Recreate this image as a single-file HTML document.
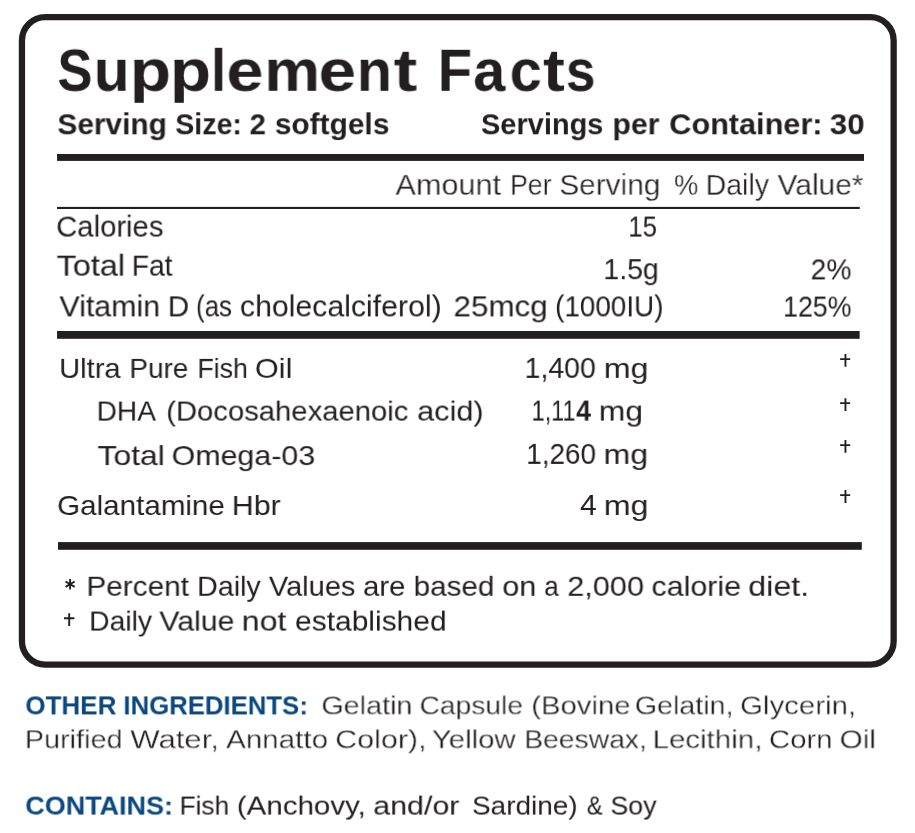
<!DOCTYPE html>
<html><head><meta charset="utf-8"><title>Supplement Facts</title>
<style>
html,body{margin:0;padding:0;background:#fff;}
body{width:915px;height:833px;position:relative;overflow:hidden;font-family:"Liberation Sans",sans-serif;color:#231f20;}
.l{height:0;}
.t{position:absolute;display:block;white-space:nowrap;transform-origin:0 0;will-change:transform;}
svg{position:absolute;overflow:visible;}
</style></head><body>
<svg width="915" height="833" viewBox="0 0 915 833" style="left:0;top:0">
<rect x="21.95" y="17.15" width="871.7" height="647.4" rx="23.3" ry="23.3" fill="none" stroke="#231f20" stroke-width="6.3"/>
<rect x="57.05" y="154" width="806.95" height="6.9" fill="#231f20"/>
<rect x="57.05" y="206.9" width="802.7" height="2.1" fill="#231f20"/>
<rect x="57.05" y="331" width="802.6" height="7.8" fill="#231f20"/>
<rect x="58" y="542.1" width="803.8" height="7.7" fill="#231f20"/>
</svg>
<div class="l"><span class="t" style="left:57px;top:40px;font-size:60px;line-height:60px;font-weight:bold;transform:translate(0.50px,0.80px) scaleX(0.8720) rotate(0.01deg)">S</span><span class="t" style="left:93px;top:40px;font-size:60px;line-height:60px;font-weight:bold;transform:translate(0.89px,0.80px) scaleX(0.9708) rotate(0.01deg)">u</span><span class="t" style="left:129px;top:40px;font-size:60px;line-height:60px;font-weight:bold;transform:translate(0.80px,0.80px) scaleX(1.1248) rotate(0.01deg)">p</span><span class="t" style="left:169px;top:40px;font-size:60px;line-height:60px;font-weight:bold;transform:translate(0.91px,0.80px) scaleX(1.1225) rotate(0.01deg)">p</span><span class="t" style="left:211px;top:40px;font-size:60px;line-height:60px;font-weight:bold;transform:translate(0.10px,0.80px) scaleX(0.8954) rotate(0.01deg)">l</span><span class="t" style="left:226px;top:40px;font-size:60px;line-height:60px;font-weight:bold;transform:translate(0.48px,0.80px) scaleX(1.1097) rotate(0.01deg)">e</span><span class="t" style="left:264px;top:40px;font-size:60px;line-height:60px;font-weight:bold;transform:translate(0.45px,0.80px) scaleX(1.0409) rotate(0.01deg)">m</span><span class="t" style="left:318px;top:40px;font-size:60px;line-height:60px;font-weight:bold;transform:translate(0.62px,0.80px) scaleX(1.1217) rotate(0.01deg)">e</span><span class="t" style="left:356px;top:40px;font-size:60px;line-height:60px;font-weight:bold;transform:translate(0.89px,0.80px) scaleX(0.9554) rotate(0.01deg)">n</span><span class="t" style="left:393px;top:40px;font-size:60px;line-height:60px;font-weight:bold;transform:translate(0.64px,0.80px) scaleX(1.1850) rotate(0.01deg)">t</span> <span class="t" style="left:437px;top:40px;font-size:60px;line-height:60px;font-weight:bold;transform:translate(0.81px,0.80px) scaleX(0.9343) rotate(0.01deg)">F</span><span class="t" style="left:473px;top:40px;font-size:60px;line-height:60px;font-weight:bold;transform:translate(0.29px,0.80px) scaleX(0.9573) rotate(0.01deg)">a</span><span class="t" style="left:509px;top:40px;font-size:60px;line-height:60px;font-weight:bold;transform:translate(0.72px,0.80px) scaleX(0.9590) rotate(0.01deg)">c</span><span class="t" style="left:543px;top:40px;font-size:60px;line-height:60px;font-weight:bold;transform:translate(0.04px,0.80px) scaleX(1.0907) rotate(0.01deg)">t</span><span class="t" style="left:565px;top:40px;font-size:60px;line-height:60px;font-weight:bold;transform:translate(0.91px,0.80px) scaleX(0.8867) rotate(0.01deg)">s</span></div>
<div class="l"><span class="t" style="left:57px;top:110px;font-size:29px;line-height:29px;font-weight:bold;transform:translate(0.43px,0.30px) scaleX(1.0292) rotate(0.01deg)">Serving</span> <span class="t" style="left:175px;top:110px;font-size:29px;line-height:29px;font-weight:bold;transform:translate(0.30px,0.30px) scaleX(0.9840) rotate(0.01deg)">Size:</span> <span class="t" style="left:249px;top:110px;font-size:29px;line-height:29px;font-weight:bold;transform:translate(0.62px,0.30px) scaleX(1.0114) rotate(0.01deg)">2</span> <span class="t" style="left:274px;top:110px;font-size:29px;line-height:29px;font-weight:bold;transform:translate(0.86px,0.30px) scaleX(1.0297) rotate(0.01deg)">softgels</span></div>
<div class="l"><span class="t" style="left:480px;top:110px;font-size:29px;line-height:29px;font-weight:bold;transform:translate(1.00px,0.30px) scaleX(0.9990) rotate(0.01deg)">Servings</span> <span class="t" style="left:612px;top:110px;font-size:29px;line-height:29px;font-weight:bold;transform:translate(0.47px,0.30px) scaleX(1.0408) rotate(0.01deg)">per</span> <span class="t" style="left:669px;top:110px;font-size:29px;line-height:29px;font-weight:bold;transform:translate(0.28px,0.30px) scaleX(1.0574) rotate(0.01deg)">Container:</span> <span class="t" style="left:829px;top:110px;font-size:29px;line-height:29px;font-weight:bold;transform:translate(0.80px,0.30px) scaleX(1.0776) rotate(0.01deg)">30</span></div>
<div class="l"><span class="t" style="-webkit-text-stroke:0.3px #fff;left:395px;top:170px;font-size:29px;line-height:29px;transform:translate(0.55px,0.90px) scaleX(1.0556) rotate(0.01deg)">Amount</span> <span class="t" style="-webkit-text-stroke:0.3px #fff;left:510px;top:170px;font-size:29px;line-height:29px;transform:translate(0.04px,0.90px) scaleX(0.9210) rotate(0.01deg)">Per</span> <span class="t" style="-webkit-text-stroke:0.3px #fff;left:559px;top:170px;font-size:29px;line-height:29px;transform:translate(0.37px,0.90px) scaleX(1.0273) rotate(0.01deg)">Serving</span></div>
<div class="l"><span class="t" style="-webkit-text-stroke:0.3px #fff;left:673px;top:170px;font-size:29px;line-height:29px;transform:translate(0.99px,0.90px) scaleX(0.9441) rotate(0.01deg)">%</span> <span class="t" style="-webkit-text-stroke:0.3px #fff;left:705px;top:170px;font-size:29px;line-height:29px;transform:translate(0.62px,0.90px) scaleX(0.9839) rotate(0.01deg)">Daily</span> <span class="t" style="-webkit-text-stroke:0.3px #fff;left:777px;top:170px;font-size:29px;line-height:29px;transform:translate(0.57px,0.90px) scaleX(1.0311) rotate(0.01deg)">Value*</span></div>
<div class="l"><span class="t" style="left:56px;top:212px;font-size:29px;line-height:29px;transform:translate(0.25px,0.60px) scaleX(1.0083) rotate(0.01deg)">Calories</span></div>
<div class="l"><span class="t" style="left:628px;top:212px;font-size:29px;line-height:29px;transform:translate(0.35px,0.60px) scaleX(0.8841) rotate(0.01deg)">15</span></div>
<div class="l"><span class="t" style="left:56px;top:251px;font-size:29px;line-height:29px;transform:translate(0.61px,0.70px) scaleX(1.1187) rotate(0.01deg)">Total</span> <span class="t" style="left:131px;top:251px;font-size:29px;line-height:29px;transform:translate(0.79px,0.70px) scaleX(0.9731) rotate(0.01deg)">Fat</span></div>
<div class="l"><span class="t" style="left:603px;top:255px;font-size:29px;line-height:29px;transform:translate(0.40px,0.20px) scaleX(0.9813) rotate(0.01deg)">1.5g</span></div>
<div class="l"><span class="t" style="left:810px;top:255px;font-size:29px;line-height:29px;transform:translate(0.67px,0.40px) scaleX(0.9707) rotate(0.01deg)">2%</span></div>
<div class="l"><span class="t" style="left:59px;top:292px;font-size:29px;line-height:29px;transform:translate(0.51px,0.40px) scaleX(1.0451) rotate(0.01deg)">Vitamin</span> <span class="t" style="left:167px;top:292px;font-size:29px;line-height:29px;transform:translate(0.79px,0.40px) scaleX(1.0218) rotate(0.01deg)">D</span> <span class="t" style="left:196px;top:292px;font-size:29px;line-height:29px;transform:translate(0.04px,0.40px) scaleX(0.8925) rotate(0.01deg)">(as</span> <span class="t" style="left:239px;top:292px;font-size:29px;line-height:29px;transform:translate(0.91px,0.40px) scaleX(1.0432) rotate(0.01deg)">cholecalciferol)</span></div>
<div class="l"><span class="t" style="left:453px;top:292px;font-size:29px;line-height:29px;transform:translate(0.51px,0.40px) scaleX(1.0830) rotate(0.01deg)">25mcg</span> <span class="t" style="left:555px;top:292px;font-size:29px;line-height:29px;transform:translate(0.09px,0.40px) scaleX(0.9602) rotate(0.01deg)">(1000IU)</span></div>
<div class="l"><span class="t" style="left:783px;top:292px;font-size:29px;line-height:29px;transform:translate(0.08px,0.60px) scaleX(0.9214) rotate(0.01deg)">125%</span></div>
<div class="l"><span class="t" style="left:59px;top:354px;font-size:28px;line-height:28px;transform:translate(0.15px,0.90px) scaleX(1.0417) rotate(0.01deg)">Ultra</span> <span class="t" style="left:129px;top:354px;font-size:28px;line-height:28px;transform:translate(0.42px,0.90px) scaleX(0.9974) rotate(0.01deg)">Pure</span> <span class="t" style="left:197px;top:354px;font-size:28px;line-height:28px;transform:translate(0.45px,0.90px) scaleX(0.9551) rotate(0.01deg)">Fish</span> <span class="t" style="left:254px;top:354px;font-size:28px;line-height:28px;transform:translate(0.90px,0.90px) scaleX(1.0938) rotate(0.01deg)">Oil</span></div>
<div class="l"><span class="t" style="left:524px;top:353px;font-size:29px;line-height:29px;transform:translate(0.60px,0.90px) scaleX(0.9813) rotate(0.01deg)">1,400</span> <span class="t" style="left:603px;top:354px;font-size:28px;line-height:28px;transform:translate(0.81px,0.90px) scaleX(1.1477) rotate(0.01deg)">mg</span></div>
<div class="l"><span class="t" style="left:96px;top:396px;font-size:28.5px;line-height:28.5px;transform:translate(0.69px,0.60px) scaleX(0.9847) rotate(0.01deg)">DHA</span> <span class="t" style="left:166px;top:396px;font-size:28.5px;line-height:28.5px;transform:translate(0.28px,0.60px) scaleX(1.0258) rotate(0.01deg)">(Docosahexaenoic</span> <span class="t" style="left:417px;top:396px;font-size:28.5px;line-height:28.5px;transform:translate(0.17px,0.60px) scaleX(1.0762) rotate(0.01deg)">acid)</span></div>
<div class="l"><span class="t" style="left:531px;top:396px;font-size:29px;line-height:29px;transform:translate(0.63px,0.60px) scaleX(0.8072) rotate(0.01deg)">1,11</span><span class="t" style="left:576px;top:396px;font-size:29px;line-height:29px;font-weight:bold;transform:translate(0.19px,0.60px) scaleX(0.9156) rotate(0.01deg)">4</span> <span class="t" style="left:598px;top:397px;font-size:28px;line-height:28px;transform:translate(0.82px,0.60px) scaleX(1.1346) rotate(0.01deg)">mg</span></div>
<div class="l"><span class="t" style="left:97px;top:441px;font-size:28.5px;line-height:28.5px;transform:translate(0.49px,0.10px) scaleX(1.1197) rotate(0.01deg)">Total</span> <span class="t" style="left:171px;top:441px;font-size:28.5px;line-height:28.5px;transform:translate(0.61px,0.10px) scaleX(1.0664) rotate(0.01deg)">Omega-03</span></div>
<div class="l"><span class="t" style="left:526px;top:439px;font-size:29px;line-height:29px;transform:translate(0.28px,0.90px) scaleX(0.9602) rotate(0.01deg)">1,260</span> <span class="t" style="left:603px;top:440px;font-size:28px;line-height:28px;transform:translate(0.59px,0.90px) scaleX(1.1421) rotate(0.01deg)">mg</span></div>
<div class="l"><span class="t" style="left:57px;top:492px;font-size:28px;line-height:28px;transform:translate(0.16px,0.00px) scaleX(1.0567) rotate(0.01deg)">Galantamine</span> <span class="t" style="left:231px;top:492px;font-size:28px;line-height:28px;transform:translate(0.81px,0.00px) scaleX(1.0836) rotate(0.01deg)">Hbr</span></div>
<div class="l"><span class="t" style="left:580px;top:491px;font-size:29px;line-height:29px;transform:translate(0.03px,0.00px) scaleX(1.0356) rotate(0.01deg)">4</span> <span class="t" style="left:603px;top:492px;font-size:28px;line-height:28px;transform:translate(0.81px,0.00px) scaleX(1.1476) rotate(0.01deg)">mg</span></div>
<div class="l"><span class="t" style="left:86px;top:572px;font-size:27.5px;line-height:27.5px;transform:translate(0.46px,0.80px) scaleX(1.0813) rotate(0.01deg)">Percent</span> <span class="t" style="left:197px;top:572px;font-size:27.5px;line-height:27.5px;transform:translate(0.13px,0.80px) scaleX(1.0419) rotate(0.01deg)">Daily</span> <span class="t" style="left:268px;top:572px;font-size:27.5px;line-height:27.5px;transform:translate(0.89px,0.80px) scaleX(1.0551) rotate(0.01deg)">Values</span> <span class="t" style="left:363px;top:572px;font-size:27.5px;line-height:27.5px;transform:translate(0.06px,0.80px) scaleX(1.0681) rotate(0.01deg)">are</span> <span class="t" style="left:413px;top:572px;font-size:27.5px;line-height:27.5px;transform:translate(0.64px,0.80px) scaleX(1.0780) rotate(0.01deg)">based</span> <span class="t" style="left:502px;top:572px;font-size:27.5px;line-height:27.5px;transform:translate(0.29px,0.80px) scaleX(1.1167) rotate(0.01deg)">on</span> <span class="t" style="left:544px;top:572px;font-size:27.5px;line-height:27.5px;transform:translate(0.22px,0.80px) scaleX(0.9483) rotate(0.01deg)">a</span> <span class="t" style="left:567px;top:572px;font-size:27.5px;line-height:27.5px;transform:translate(0.33px,0.80px) scaleX(1.1145) rotate(0.01deg)">2,000</span> <span class="t" style="left:651px;top:572px;font-size:27.5px;line-height:27.5px;transform:translate(0.44px,0.80px) scaleX(1.1071) rotate(0.01deg)">calorie</span> <span class="t" style="left:748px;top:572px;font-size:27.5px;line-height:27.5px;transform:translate(0.22px,0.80px) scaleX(1.1746) rotate(0.01deg)">diet.</span></div>
<div class="l"><span class="t" style="left:89px;top:607px;font-size:27.5px;line-height:27.5px;transform:translate(0.17px,0.60px) scaleX(1.0289) rotate(0.01deg)">Daily</span> <span class="t" style="left:159px;top:607px;font-size:27.5px;line-height:27.5px;transform:translate(0.37px,0.60px) scaleX(1.0978) rotate(0.01deg)">Value</span> <span class="t" style="left:241px;top:607px;font-size:27.5px;line-height:27.5px;transform:translate(0.67px,0.60px) scaleX(1.1710) rotate(0.01deg)">not</span> <span class="t" style="left:295px;top:607px;font-size:27.5px;line-height:27.5px;transform:translate(0.02px,0.60px) scaleX(1.0899) rotate(0.01deg)">established</span></div>
<div class="l"><span class="t" style="left:25px;top:692px;font-size:26.7px;line-height:26.7px;font-weight:bold;color:#0b4880;transform:translate(0.37px,0.40px) scaleX(0.9745) rotate(0.01deg)">OTHER</span> <span class="t" style="left:123px;top:692px;font-size:26.7px;line-height:26.7px;font-weight:bold;color:#0b4880;transform:translate(0.40px,0.40px) scaleX(0.9644) rotate(0.01deg)">INGREDIENTS:</span> <span class="t" style="-webkit-text-stroke:0.3px #fff;left:321px;top:693px;font-size:25.5px;line-height:25.5px;transform:translate(0.40px,0.40px) scaleX(1.1277) rotate(0.01deg)">Gelatin</span> <span class="t" style="-webkit-text-stroke:0.3px #fff;left:419px;top:693px;font-size:25.5px;line-height:25.5px;transform:translate(0.58px,0.40px) scaleX(1.1052) rotate(0.01deg)">Capsule</span> <span class="t" style="-webkit-text-stroke:0.3px #fff;left:531px;top:693px;font-size:25.5px;line-height:25.5px;transform:translate(0.30px,0.40px) scaleX(1.1480) rotate(0.01deg)">(Bovine</span> <span class="t" style="-webkit-text-stroke:0.3px #fff;left:634px;top:693px;font-size:25.5px;line-height:25.5px;transform:translate(0.79px,0.40px) scaleX(1.1224) rotate(0.01deg)">Gelatin,</span> <span class="t" style="-webkit-text-stroke:0.3px #fff;left:740px;top:693px;font-size:25.5px;line-height:25.5px;transform:translate(0.13px,0.40px) scaleX(1.1529) rotate(0.01deg)">Glycerin,</span> <span class="t" style="-webkit-text-stroke:0.3px #fff;left:24px;top:727px;font-size:25.5px;line-height:25.5px;transform:translate(0.80px,0.30px) scaleX(1.1301) rotate(0.01deg)">Purified</span> <span class="t" style="-webkit-text-stroke:0.3px #fff;left:130px;top:727px;font-size:25.5px;line-height:25.5px;transform:translate(0.31px,0.30px) scaleX(1.2199) rotate(0.01deg)">Water,</span> <span class="t" style="-webkit-text-stroke:0.3px #fff;left:226px;top:727px;font-size:25.5px;line-height:25.5px;transform:translate(0.03px,0.30px) scaleX(1.1607) rotate(0.01deg)">Annatto</span> <span class="t" style="-webkit-text-stroke:0.3px #fff;left:335px;top:727px;font-size:25.5px;line-height:25.5px;transform:translate(0.20px,0.30px) scaleX(1.1947) rotate(0.01deg)">Color),</span> <span class="t" style="-webkit-text-stroke:0.3px #fff;left:431px;top:727px;font-size:25.5px;line-height:25.5px;transform:translate(0.82px,0.30px) scaleX(1.1524) rotate(0.01deg)">Yellow</span> <span class="t" style="-webkit-text-stroke:0.3px #fff;left:524px;top:727px;font-size:25.5px;line-height:25.5px;transform:translate(0.30px,0.30px) scaleX(1.1090) rotate(0.01deg)">Beeswax,</span> <span class="t" style="-webkit-text-stroke:0.3px #fff;left:652px;top:727px;font-size:25.5px;line-height:25.5px;transform:translate(0.54px,0.30px) scaleX(1.1565) rotate(0.01deg)">Lecithin,</span> <span class="t" style="-webkit-text-stroke:0.3px #fff;left:768px;top:727px;font-size:25.5px;line-height:25.5px;transform:translate(0.96px,0.30px) scaleX(1.1503) rotate(0.01deg)">Corn</span> <span class="t" style="-webkit-text-stroke:0.3px #fff;left:839px;top:727px;font-size:25.5px;line-height:25.5px;transform:translate(0.58px,0.30px) scaleX(1.1684) rotate(0.01deg)">Oil</span></div>
<div class="l"><span class="t" style="left:25px;top:792px;font-size:26.7px;line-height:26.7px;font-weight:bold;color:#0b4880;transform:translate(0.33px,0.60px) scaleX(1.0097) rotate(0.01deg)">CONTAINS:</span> <span class="t" style="left:179px;top:792px;font-size:26px;line-height:26px;transform:translate(0.60px,0.60px) scaleX(1.0093) rotate(0.01deg)">Fish</span> <span class="t" style="left:236px;top:792px;font-size:26px;line-height:26px;transform:translate(0.84px,0.60px) scaleX(1.1355) rotate(0.01deg)">(Anchovy,</span> <span class="t" style="left:373px;top:792px;font-size:26px;line-height:26px;transform:translate(0.25px,0.60px) scaleX(1.1697) rotate(0.01deg)">and/or</span> <span class="t" style="left:472px;top:792px;font-size:26px;line-height:26px;transform:translate(0.08px,0.60px) scaleX(1.0732) rotate(0.01deg)">Sardine)</span> <span class="t" style="left:586px;top:792px;font-size:26px;line-height:26px;transform:translate(0.78px,0.60px) scaleX(0.9164) rotate(0.01deg)">&amp;</span> <span class="t" style="left:610px;top:792px;font-size:26px;line-height:26px;transform:translate(0.46px,0.60px) scaleX(1.0301) rotate(0.01deg)">Soy</span></div>
<svg width="915" height="833" viewBox="0 0 915 833" style="left:0;top:0" fill="none" stroke="#231f20" stroke-width="1.9">
<path d="M845.45 354.00V366.80M840.10 359.10H850.20"/>
<path d="M845.45 398.20V410.90M840.10 403.10H850.20"/>
<path d="M845.45 440.10V452.70M840.10 445.10H850.20"/>
<path d="M845.45 490.10V502.90M840.10 495.10H850.20"/>
<path d="M69.20 613.20V626.00M64.00 618.20H74.40"/>
<path d="M70.1 579.0V589.4M65.51 581.55L74.69 586.85M74.69 581.55L65.51 586.85" stroke-width="1.9"/>
</svg>
</body></html>
